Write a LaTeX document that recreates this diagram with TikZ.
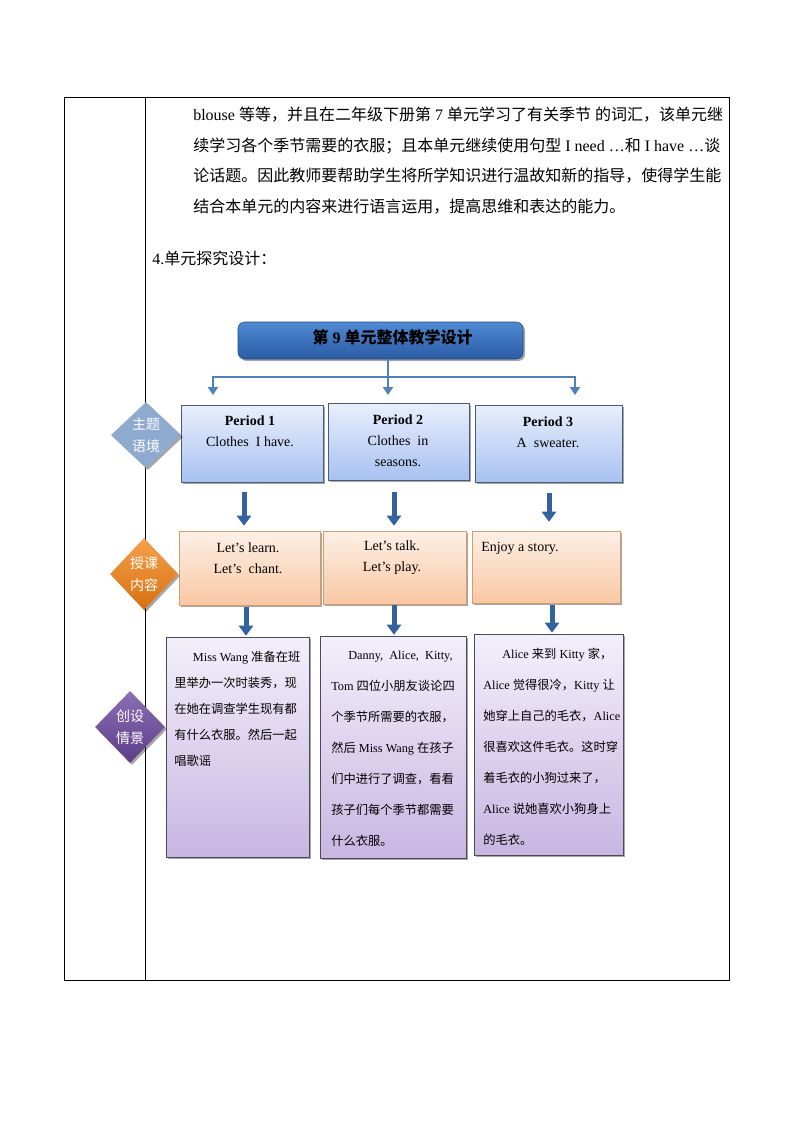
\documentclass[tikz,border=0pt]{standalone}
\usepackage{fontspec}
\setmainfont{Liberation Serif}
\newfontfamily\cjk{Noto Sans CJK SC}
\usetikzlibrary{calc,shapes.geometric,shadows,arrows.meta}

\definecolor{titletop}{HTML}{4F8AD2}
\definecolor{titlebot}{HTML}{2A5CA5}
\definecolor{linkblue}{HTML}{4F81BD}
\definecolor{arrowblue}{HTML}{34619F}
\definecolor{periodtop}{HTML}{E9EFFC}
\definecolor{periodbot}{HTML}{A7C1F1}
\definecolor{periodline}{HTML}{4A5A78}
\definecolor{lessontop}{HTML}{FDF0E6}
\definecolor{lessonbot}{HTML}{F9C7A3}
\definecolor{lessonline}{HTML}{D49B6B}
\definecolor{scenetop}{HTML}{F3EFFA}
\definecolor{scenebot}{HTML}{C8B6E2}
\definecolor{sceneline}{HTML}{4A4A5A}
\definecolor{topicblue}{HTML}{8EABCF}
\definecolor{orangetop}{HTML}{F5A04C}
\definecolor{orangebot}{HTML}{D8700F}
\definecolor{purpletop}{HTML}{8C6EB5}
\definecolor{purplebot}{HTML}{5B3E86}

\tikzset{
  softshadow/.style={drop shadow={shadow xshift=1.5pt,shadow yshift=-1.5pt,fill=black,opacity=.35}},
  para/.style={anchor=base west,inner sep=0pt,font=\fontsize{12}{14}\selectfont},
  titlebox/.style={rounded corners=5pt,top color=titletop,bottom color=titlebot,draw=titlebot!80!black,thin,softshadow},
  periodbox/.style={draw=periodline,thin,top color=periodtop,bottom color=periodbot,softshadow},
  lessonbox/.style={draw=lessonline,thin,top color=lessontop,bottom color=lessonbot,softshadow},
  scenebox/.style={draw=sceneline,thin,top color=scenetop,bottom color=scenebot,softshadow},
  boxtext/.style={inner sep=0pt,align=center,font=\fontsize{10.5}{15.75}\selectfont},
  scenetext/.style={anchor=north west,inner sep=0pt,align=left},
  tag/.style={diamond,inner sep=0pt,text=white,align=center,softshadow,font=\cjk\fontsize{10.5}{16.5}\selectfont},
  branch/.style={draw=linkblue,line width=1.5pt},
  branchtip/.style={branch,-{Triangle[width=7.5pt,length=6pt]}},
  blockarrow/.style={draw=arrowblue,line width=3.75pt,-{Triangle[width=10.5pt,length=7.5pt]}}
}

\begin{document}
\begin{tikzpicture}[x=0.75pt,y=-0.75pt]
	\useasboundingbox (0,0) rectangle (794,1123);
	
	%%%%% table frame %%%%%
	\draw[line width=0.6pt] (64,97) rectangle (729,980);
	\draw[line width=0.6pt] (145.5,97) -- (145.5,980);
	
	%%%%% running text %%%%%
	\node[para] (line1) at (193,121) {blouse {\cjk 等等，并且在二年级下册第} 7 {\cjk 单元学习了有关季节} {\cjk 的词汇，该单元继}};
	\node[para] (line2) at (193,152) {{\cjk 续学习各个季节需要的衣服；且本单元继续使用句型} I need …{\cjk 和} I have …{\cjk 谈}};
	\node[para] (line3) at (193,182) {{\cjk 论话题。因此教师要帮助学生将所学知识进行温故知新的指导，使得学生能}};
	\node[para] (line4) at (193,213) {{\cjk 结合本单元的内容来进行语言运用，提高思维和表达的能力。}};
	\node[para] (heading) at (152,264) {4.{\cjk 单元探究设计：}};
	
	%%%%% title %%%%%
	\node[titlebox,minimum width=213.75pt,minimum height=27.75pt] (title) at (380.5,340.5) {};
	\node[inner sep=0pt,font=\fontsize{12}{14}\selectfont\bfseries] (titlelabel) at (392.5,337) {{\cjk 第} 9 {\cjk 单元整体教学设计}};
	
	\coordinate (hub) at (388,377);
	\coordinate (tipl) at (213,395);
	\coordinate (tipm) at (388,395);
	\coordinate (tipr) at (575,395);
	\draw[branch] (title.south -| hub) -- (hub);
	\draw[branchtip] (hub) -| (tipl);
	\draw[branchtip] (hub) -- (tipm);
	\draw[branchtip] (hub) -| (tipr);
	
	%%%%% periods %%%%%
	\node[periodbox,minimum width=106.5pt,minimum height=57.75pt] (p1) at (252,443.5) {};
	\node[periodbox,minimum width=105.75pt,minimum height=57.75pt] (p2) at (398.5,441.5) {};
	\node[periodbox,minimum width=110.25pt,minimum height=57.75pt] (p3) at (548.5,443.5) {};
	\node[boxtext] (p1text) at (250,431.5) {\textbf{Period 1}\\Clothes\ \ I have.};
	\node[boxtext] (p2text) at (398,441) {\textbf{Period 2}\\Clothes\ \ in\\seasons.};
	\node[boxtext] (p3text) at (548,432) {\textbf{Period 3}\\A\ \ sweater.};
	
	%%%%% lessons %%%%%
	\node[lessonbox,minimum width=105.75pt,minimum height=55.5pt] (o1) at (249.5,568) {};
	\node[lessonbox,minimum width=107.25pt,minimum height=54.75pt] (o2) at (394.5,567.5) {};
	\node[lessonbox,minimum width=111pt,minimum height=54pt] (o3) at (546,567) {};
	\node[boxtext] (o1text) at (248,558) {Let’s learn.\\Let’s\ \ chant.};
	\node[boxtext] (o2text) at (392,558) {Let’s talk.\\Let’s play.};
	\node[boxtext,anchor=west] (o3text) at (481,548) {Enjoy a story.};
	
	%%%%% scenes %%%%%
	\node[scenebox,minimum width=107.25pt,minimum height=165pt] (v1) at (237.5,747) {};
	\node[scenebox,minimum width=109.5pt,minimum height=166.5pt] (v2) at (393,747) {};
	\node[scenebox,minimum width=111.75pt,minimum height=165.75pt] (v3) at (548.5,744.5) {};
	\node[scenetext,font=\fontsize{9.2}{19.5}\selectfont] (v1text) at (174,651) {\hspace*{14pt}Miss Wang {\cjk 准备在班}\\{\cjk 里举办一次时装秀，现}\\{\cjk 在她在调查学生现有都}\\{\cjk 有什么衣服。然后一起}\\{\cjk 唱歌谣}};
	\node[scenetext,font=\fontsize{9.2}{23.25}\selectfont] (v2text) at (331,651) {\hspace*{12.75pt}Danny,\ \ Alice,\ \ Kitty,\\Tom {\cjk 四位小朋友谈论四}\\{\cjk 个季节所需要的衣服，}\\{\cjk 然后} Miss Wang {\cjk 在孩子}\\{\cjk 们中进行了调查，看看}\\{\cjk 孩子们每个季节都需要}\\{\cjk 什么衣服。}};
	\node[scenetext,font=\fontsize{9.2}{23.25}\selectfont] (v3text) at (483,648) {\hspace*{14.25pt}Alice {\cjk 来到} Kitty {\cjk 家，}\\Alice {\cjk 觉得很冷，}Kitty {\cjk 让}\\{\cjk 她穿上自己的毛衣，}Alice\\{\cjk 很喜欢这件毛衣。这时穿}\\{\cjk 着毛衣的小狗过来了，}\\Alice {\cjk 说她喜欢小狗身上}\\{\cjk 的毛衣。}};
	
	%%%%% block arrows %%%%%
	\draw[blockarrow] ($(p1.south)+(-8,10)$) -- ($(o1.north)+(-5.5,-5)$);
	\draw[blockarrow] ($(p2.south)+(-4.5,12)$) -- ($(o2.north)+(-0.5,-5)$);
	\draw[blockarrow] ($(p3.south)+(0.5,11)$) -- ($(o3.north)+(3,-9)$);
	\draw[blockarrow] ($(o1.south)+(-3.5,2)$) -- ($(v1.north)+(8.5,-1)$);
	\draw[blockarrow] ($(o2.south)+(-0.5,1)$) -- ($(v2.north)+(1,-1)$);
	\draw[blockarrow] ($(o3.south)+(6,2)$) -- ($(v3.north)+(3.5,-1)$);
	
	%%%%% side tags %%%%%
	\node[tag,minimum width=52.5pt,minimum height=49.5pt,fill=topicblue] (d1) at (146,435) {主题\\语境};
	\node[tag,minimum width=51pt,minimum height=54pt,top color=orangetop,bottom color=orangebot] (d2) at (144,574) {授课\\内容};
	\node[tag,minimum width=52.5pt,minimum height=54pt,top color=purpletop,bottom color=purplebot] (d3) at (130,727) {创设\\情景};
	
\end{tikzpicture}
\end{document}
